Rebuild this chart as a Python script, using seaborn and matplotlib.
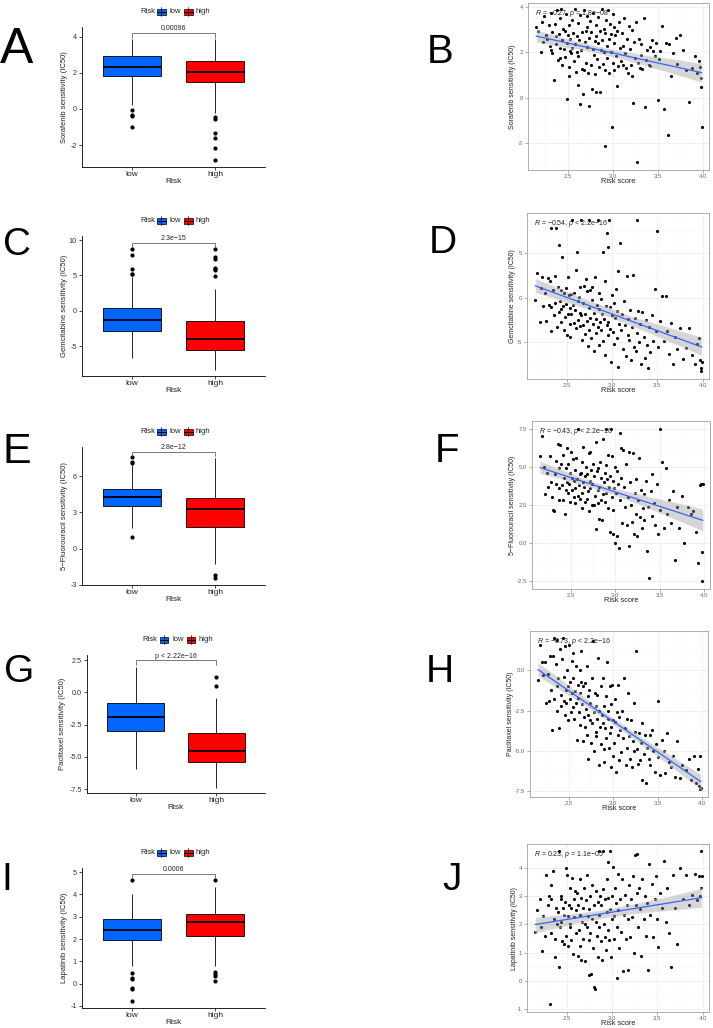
import numpy as np
import pandas as pd
import matplotlib
matplotlib.use("Agg")
import matplotlib.pyplot as plt
import seaborn as sns
from matplotlib import font_manager
from matplotlib.patches import Rectangle
from matplotlib.lines import Line2D

# ---------------- data ----------------
risk_levels = ["low", "high"]
risk_colors = ["#0066FF", "#FF0000"]

# boxplot values per drug (IC50), low / high risk groups
sorafenib_low = [-0.98, -0.40, -0.33, -0.05, 0.20, 0.9, 1.4, 1.65, 1.82, 1.9, 2.0, 2.05, 2.12, 2.2, 2.25, 2.3, 2.33,
                 2.4, 2.48, 2.55, 2.62, 2.7, 2.8, 2.9, 2.96, 3.05, 3.15, 3.3, 3.42, 3.55, 3.68, 3.78, 3.87]
sorafenib_high = [-2.85, -2.15, -1.63, -1.31, -0.55, -0.43, -0.22, 0.8, 1.48, 1.6, 1.7, 1.78, 1.85, 1.92, 1.98, 2.03, 2.07,
                  2.12, 2.2, 2.28, 2.35, 2.42, 2.5, 2.58, 2.65, 2.75, 2.9, 3.05, 3.2, 3.4, 3.55, 3.7, 3.87]
gemcitabine_low = [-6.7, -5.8, -5.0, -4.4, -3.9, -3.5, -3.2, -3.0, -2.83, -2.6, -2.4, -2.2, -2.0, -1.8, -1.6, -1.5, -1.37,
                   -1.2, -1.0, -0.8, -0.6, -0.3, -0.1, 0.15, 0.33, 1.3, 2.8, 4.7, 5.15, 5.25, 5.9, 7.88, 8.77]
gemcitabine_high = [-8.35, -7.6, -7.0, -6.6, -6.3, -6.0, -5.8, -5.65, -5.56, -5.4, -5.2, -5.0, -4.8, -4.5, -4.3, -4.1, -3.96,
                    -3.7, -3.4, -3.1, -2.8, -2.4, -2.0, -1.7, -1.51, 3.07, 4.85, 5.8, 5.9, 6.04, 7.3, 7.6, 8.77]
fluorouracil_low = [0.97, 1.71, 2.4, 2.8, 3.0, 3.2, 3.35, 3.45, 3.55, 3.65, 3.75, 3.85, 3.95, 4.05, 4.12, 4.18, 4.24,
                    4.3, 4.38, 4.46, 4.55, 4.65, 4.75, 4.85, 4.93, 5.2, 5.6, 6.0, 6.4, 6.9, 7.08, 7.2, 7.55]
fluorouracil_high = [-2.42, -2.23, -1.26, -0.3, 0.4, 0.9, 1.3, 1.6, 1.79, 2.0, 2.2, 2.45, 2.65, 2.85, 3.0, 3.15, 3.28,
                     3.4, 3.5, 3.62, 3.75, 3.88, 3.98, 4.1, 4.19, 4.5, 4.9, 5.3, 5.8, 6.3, 6.8, 7.2, 7.5]
paclitaxel_low = [-5.97, -5.3, -4.7, -4.2, -3.8, -3.5, -3.3, -3.1, -3.0, -2.85, -2.7, -2.55, -2.4, -2.25, -2.1, -2.0, -1.91,
                  -1.8, -1.65, -1.5, -1.35, -1.2, -1.05, -0.9, -0.8, -0.5, -0.2, 0.1, 0.5, 0.9, 1.3, 1.65, 1.96]
paclitaxel_high = [-7.39, -6.9, -6.5, -6.2, -5.95, -5.75, -5.6, -5.5, -5.4, -5.3, -5.2, -5.1, -4.95, -4.85, -4.75, -4.65, -4.55,
                   -4.4, -4.25, -4.05, -3.85, -3.65, -3.45, -3.3, -3.18, -2.8, -2.3, -1.8, -1.3, -0.8, -0.41, 0.49, 1.19]
lapatinib_low = [-0.76, -0.26, -0.19, 0.2, 0.25, 0.48, 0.77, 1.5, 1.94, 2.0, 2.07, 2.13, 2.2, 2.27, 2.33, 2.38, 2.42,
                 2.48, 2.54, 2.6, 2.66, 2.72, 2.78, 2.84, 2.89, 3.0, 3.15, 3.3, 3.5, 3.7, 3.85, 4.01, 4.65]
lapatinib_high = [0.1, 0.35, 0.45, 0.5, 0.77, 1.3, 1.7, 1.95, 2.12, 2.25, 2.35, 2.45, 2.53, 2.6, 2.66, 2.71, 2.76,
                  2.8, 2.85, 2.9, 2.95, 3.0, 3.05, 3.09, 3.12, 3.25, 3.4, 3.55, 3.7, 3.9, 4.1, 4.35, 4.65]

box_pvalues = ["0.00096", "2.3e\u221215", "2.8e\u221212", "p < 2.22e\u221216", "0.0006"]

# risk score (shared x) and drug sensitivities for scatter panels
risk_score = [
    2.15, 2.17, 2.20, 2.21, 2.23, 2.24, 2.26, 2.27, 2.29, 2.30,
    2.31, 2.32, 2.33, 2.33, 2.35, 2.36, 2.37, 2.37, 2.38, 2.39,
    2.40, 2.41, 2.41, 2.42, 2.43, 2.44, 2.44, 2.45, 2.46, 2.47,
    2.47, 2.48, 2.49, 2.49, 2.50, 2.51, 2.51, 2.52, 2.53, 2.53,
    2.54, 2.55, 2.55, 2.56, 2.57, 2.58, 2.58, 2.59, 2.60, 2.60,
    2.61, 2.62, 2.62, 2.63, 2.64, 2.64, 2.65, 2.66, 2.66, 2.67,
    2.68, 2.68, 2.69, 2.70, 2.70, 2.71, 2.72, 2.72, 2.73, 2.74,
    2.74, 2.75, 2.76, 2.76, 2.77, 2.78, 2.78, 2.79, 2.80, 2.80,
    2.81, 2.82, 2.82, 2.83, 2.84, 2.84, 2.85, 2.86, 2.86, 2.87,
    2.88, 2.88, 2.89, 2.90, 2.90, 2.91, 2.92, 2.92, 2.93, 2.94,
    2.94, 2.95, 2.96, 2.96, 2.97, 2.98, 2.98, 2.99, 3.00, 3.00,
    3.01, 3.02, 3.02, 3.03, 3.04, 3.05, 3.05, 3.06, 3.07, 3.08,
    3.09, 3.10, 3.11, 3.12, 3.13, 3.14, 3.15, 3.16, 3.17, 3.18,
    3.19, 3.20, 3.21, 3.22, 3.23, 3.24, 3.25, 3.26, 3.27, 3.28,
    3.29, 3.30, 3.31, 3.32, 3.33, 3.35, 3.36, 3.37, 3.38, 3.40,
    3.41, 3.42, 3.44, 3.45, 3.47, 3.48, 3.50, 3.51, 3.53, 3.55,
    3.57, 3.59, 3.61, 3.63, 3.65, 3.67, 3.70, 3.72, 3.75, 3.78,
    3.82, 3.85, 3.88, 3.91, 3.94, 3.96, 3.97, 3.98, 3.98, 3.99,
]
sorafenib_ic50 = [
    3.10, 2.95, 2.00, 3.35, 2.45, 3.60, 2.78, 2.60, 3.20, 2.30,
    3.75, 2.10, 2.90, 1.95, 0.77, 3.25, 2.70, 2.35, 3.85, 1.65,
    2.80, 3.50, 1.75, 2.20, 3.90, 2.55, 1.45, 3.05, 2.15, 2.95,
    1.80, 3.70, 2.40, -0.05, 2.75, 1.35, 3.20, 0.95, 2.05, 2.60,
    1.95, 3.45, 2.20, 2.85, 1.60, 3.90, 2.35, 1.15, 2.70, 2.00,
    0.55, 3.30, 1.85, 2.55, -0.30, 3.65, 2.10, 1.25, 2.90, 0.15,
    3.85, 1.20, 2.45, 1.55, 2.95, 3.10, 2.25, 3.60, 1.10, -0.35,
    2.65, 3.40, 1.45, 2.90, 0.40, 2.15, 3.75, 1.90, 2.50, 1.05,
    3.20, 0.25, 2.70, 1.70, 3.55, 2.40, 1.35, 2.95, 0.25, 2.10,
    3.90, 2.55, 1.50, 3.05, 2.00, 2.85, 1.20, -2.15, 3.45, 2.30,
    1.75, 3.85, 2.60, 1.10, 3.25, 2.00, 2.80, -1.30, 1.55, 3.70,
    2.40, 1.20, 3.10, 2.75, 1.85, 0.50, 2.95, 1.40, 3.35, 2.20,
    1.60, 2.85, 1.45, 2.30, 3.50, 1.95, 1.30, 2.60, 1.10, 3.15,
    2.15, 1.45, 0.95, 3.00, -0.25, 2.45, 1.75, 3.35, -2.85, 1.55,
    2.60, 1.30, 1.90, 2.35, 1.25, 3.50, -0.40, 1.65, 2.10, 1.45,
    2.25, 1.40, 2.55, 2.05, 1.85, 2.40, -0.10, 1.70, 2.05, 3.15,
    -0.50, 2.40, -1.65, 2.35, 0.95, 1.95, 2.65, 1.50, 2.75, 2.10,
    1.20, -0.20, 1.30, 1.85, 1.10, 1.60, 1.35, 0.85, 0.45, -1.30,
]
gemcitabine_ic50 = [
    -0.3, 2.7, -2.8, 1.1, 2.3, -1.0, 0.5, -2.6, 2.2, -0.8,
    1.9, -1.1, 7.8, -3.8, 0.9, -2.0, 2.4, -0.6, 7.8, -3.3,
    1.2, -1.6, 5.9, -0.4, -2.7, 0.8, -1.3, 4.6, -0.9, -3.6,
    0.5, -2.2, 1.1, -0.7, -4.2, 2.3, -1.8, 0.3, -3.0, -1.2,
    -4.4, 0.4, -1.9, 8.7, -0.8, -2.9, 0.5, -1.4, -3.4, 3.1,
    5.1, -2.5, -0.4, 0.1, -3.2, -1.7, 1.2, 8.7, -2.0, -4.8,
    -0.6, -3.1, 1.3, -1.9, -4.1, 2.1, -2.6, 0.7, -5.4, 8.7,
    -1.2, -3.7, 0.9, -2.3, -4.6, -0.3, 1.2, -3.0, -6.0, -1.7,
    2.3, -2.4, -4.0, -0.8, -3.3, 8.7, -1.3, -5.3, 0.5, -2.7,
    -0.2, -3.6, -1.9, 5.1, -4.9, -2.4, 1.8, -6.5, -0.9, -3.1,
    7.2, -2.8, 5.7, -4.2, 8.7, -1.1, -3.5, -7.2, 0.3, -2.0,
    -3.9, -0.6, -5.2, -2.3, 1.0, -4.5, -1.5, -7.8, 3.0, -3.0,
    6.1, -3.6, -1.9, -5.8, -0.4, -3.1, -6.6, 2.4, -4.2, -2.4,
    -4.8, -1.4, -7.0, -3.3, 2.5, -5.6, -2.3, -6.0, 8.7, -4.0,
    -1.5, -5.0, -3.0, -7.5, -1.6, -4.4, -6.8, -2.5, -5.3, -7.9,
    -3.3, -6.1, -2.0, -4.9, 1.0, -3.8, 7.5, -5.6, -2.6, 0.2,
    -4.9, 0.2, -3.8, -6.3, -2.9, -7.5, -4.4, -5.8, -3.4, -6.9,
    -5.7, -3.4, -6.5, -7.5, -5.2, -4.6, -7.0, -8.3, -7.9, -7.2,
]
fluorouracil_ic50 = [
    5.7, 7.0, 5.0, 3.2, 4.6, 3.7, 5.7, 4.0, 3.0, 2.2,
    2.1, 4.5, 5.4, 3.9, 6.5, 2.8, 4.9, 3.6, 6.4, 5.2,
    3.8, 2.8, 5.8, 4.3, 1.9, 4.9, 3.5, 6.2, 4.0, 3.3,
    5.2, 3.9, 4.6, 2.7, 6.0, 3.5, 4.3, 5.5, 3.0, 4.1,
    3.6, 4.8, 2.6, 5.6, 4.2, 3.1, 7.5, 3.8, 4.5, 2.9,
    4.6, 3.3, 5.3, 2.3, 4.0, 6.3, 3.7, 4.4, 2.7, 5.0,
    2.9, 4.5, 3.4, 5.9, 2.1, 4.1, 3.6, 6.0, 4.8, 2.5,
    3.9, 5.2, 2.5, 4.4, 3.1, 6.6, 0.9, 4.7, 3.5, 2.6,
    4.9, 1.6, 3.7, 5.3, 2.8, 4.3, 1.5, 3.2, 6.8, 4.0,
    2.7, 4.6, 5.1, 7.5, 3.3, 4.2, 2.3, 5.8, 3.7, 0.7,
    4.4, 7.5, 3.0, 5.7, 0.6, 4.1, 2.2, 3.6, 5.0, 0.0,
    3.3, 4.7, 0.5, 3.9, -0.3, 7.2, 2.8, 6.2, 4.3, 1.3,
    6.1, 3.7, 2.4, 5.2, 1.2, 3.0, 6.0, -0.2, 4.0, 2.5,
    1.4, 5.9, 0.6, 3.3, 1.9, 4.2, 0.5, 2.8, 5.6, 1.7,
    3.5, 1.0, 2.3, 3.2, 1.5, 4.1, -0.5, 2.4, -2.3, 3.4,
    1.8, 4.5, 2.6, 1.2, 3.9, 0.6, 7.5, 2.2, 5.3, 1.0,
    4.9, 1.9, 2.8, 1.3, 3.4, -1.1, 2.4, 1.0, 3.1, 0.0,
    2.4, 1.9, 2.1, 0.7, -1.3, 3.8, 3.9, -2.5, -0.6, 3.9,
]
paclitaxel_ic50 = [
    -0.6, 1.6, 0.5, -0.3, 0.5, -2.0, -0.2, -1.9, 0.9, -1.2,
    -3.7, 0.9, 2.0, -1.8, 0.4, -1.0, 1.9, -2.5, -0.5, -3.6,
    1.3, -1.5, -2.2, 0.7, 2.0, -1.9, -0.4, -2.8, 1.5, -1.2,
    -2.0, 0.0, -1.0, -3.1, 1.6, -1.8, -0.7, -2.6, 0.6, -1.4,
    -2.3, -0.5, 1.1, -3.0, -1.3, 0.3, -2.0, -4.3, -0.9, -1.7,
    -2.6, 0.0, -1.4, -3.4, -0.7, 1.2, -2.1, -4.4, -1.0, -2.9,
    -3.5, -0.8, -2.4, 0.3, -4.0, -1.6, -2.8, -5.5, -1.2, -3.1,
    -2.0, -4.5, -0.5, -3.3, 1.8, -2.6, -5.0, -1.4, -3.8, -2.2,
    -4.1, -1.5, -3.0, 0.8, -2.5, -5.9, -3.5, -1.0, -4.6, -2.8,
    -3.3, -0.5, -4.9, -2.2, -5.7, -3.6, -1.6, -4.2, 0.5, -3.0,
    -2.5, -4.8, -1.0, -3.9, -6.0, -2.1, -3.5, -0.9, -5.3, -3.1,
    -4.5, -1.8, -3.2, -6.3, -2.6, -0.9, -4.0, -5.6, -2.9, -3.7,
    -5.1, -2.5, -4.2, -0.5, -3.6, -5.9, -3.0, -4.8, -1.4, -4.1,
    -5.5, -3.1, -6.0, -4.4, -2.0, -5.0, -3.8, 1.2, -4.9, -5.8,
    -3.9, -5.6, -4.5, -6.8, -3.3, -5.2, -4.0, -7.0, -4.8, -5.5,
    -4.0, -5.9, -3.7, -5.0, -6.3, -4.6, -1.9, -5.4, -6.5, -4.3,
    -5.0, -6.4, -3.9, -5.7, -6.0, -5.3, -6.6, -4.4, -6.7, -5.9,
    -6.2, -5.5, -6.8, -5.3, -7.0, -6.1, -7.2, -7.4, -5.3, -7.3,
]
lapatinib_ic50 = [
    1.75, 2.5, 2.9, 1.9, 1.05, 2.3, 1.6, 3.75, 2.7, 3.0,
    -0.8, 2.9, 3.4, 1.7, 3.9, 2.2, 1.5, 0.85, 2.6, 2.0,
    2.45, 0.5, 4.6, 1.9, 2.9, 2.1, 3.0, 1.4, 2.6, 2.35,
    1.3, 2.8, 4.0, 1.6, 3.75, 2.3, 1.25, 2.7, 1.9, 3.3,
    2.0, 2.6, 1.45, 3.65, 0.95, 2.9, 2.25, 3.2, 1.7, 2.5,
    3.1, 0.9, 2.7, 1.8, 3.6, 2.35, 1.25, 2.95, 0.75, 2.1,
    2.6, 1.5, 3.3, 2.0, 0.7, 2.85, 1.9, 3.75, 2.3, 1.45,
    0.2, 2.55, 3.0, 1.7, 0.25, 2.2, 3.4, 1.15, -0.2, 2.7,
    -0.3, 2.1, 3.2, 1.6, 2.8, 0.85, 4.6, 2.35, 1.9, 3.0,
    1.4, 2.7, 0.75, 4.6, 3.25, 2.0, 1.55, 2.9, 1.1, 2.45,
    3.6, 1.8, 2.95, 4.2, 1.45, 2.55, 4.6, 0.85, 2.2, 3.0,
    4.05, 2.3, 1.5, 3.3, 2.75, 0.1, 1.9, 2.5, 3.8, 1.15,
    2.9, 1.75, 3.6, 0.35, 2.35, 3.05, 1.5, 2.7, 0.4, 2.2,
    3.4, 1.55, 2.9, 2.25, 3.7, 1.0, 4.45, 2.7, 3.1, 4.5,
    1.9, 3.3, 2.55, 0.9, 3.6, 2.2, 3.0, 1.6, 2.75, 0.4,
    4.15, 2.35, 3.45, 1.55, 2.9, 3.7, 2.2, 1.2, 3.1, 2.6,
    4.25, 2.1, 3.3, 1.7, 0.5, 3.75, 2.6, 1.3, 4.0, 2.9,
    3.75, 2.7, 3.05, 3.8, 2.85, 3.7, 3.0, 4.6, 3.3, 3.7,
]
cor_labels = [
    "$\\mathit{R}$ = \u22120.27, $\\mathit{p}$ = 1.8e\u221208",
    "$\\mathit{R}$ = \u22120.54, $\\mathit{p}$ < 2.2e\u221216",
    "$\\mathit{R}$ = \u22120.43, $\\mathit{p}$ < 2.2e\u221216",
    "$\\mathit{R}$ = \u22120.73, $\\mathit{p}$ < 2.2e\u221216",
    "$\\mathit{R}$ = 0.23, $\\mathit{p}$ = 1.1e\u221205",
]

drug_names = ["Sorafenib", "Gemcitabine", "5\u2212Fluorouracil", "Paclitaxel", "Lapatinib"]

box_yticks = [[-2, 0, 2, 4], [-5, 0, 5, 10], [-3, 0, 3, 6], [-7.5, -5, -2.5, 0, 2.5], [-1, 0, 1, 2, 3, 4, 5]]
box_yticklabels = [["-2", "0", "2", "4"], ["-5", "0", "5", "10"], ["-3", "0", "3", "6"],
                   ["-7.5", "-5.0", "-2.5", "0.0", "2.5"], ["-1", "0", "1", "2", "3", "4", "5"]]
sc_xticks = [2.5, 3.0, 3.5, 4.0]
sc_xticklabels = ["2.5", "3.0", "3.5", "4.0"]
sc_xminor = [2.25, 2.75, 3.25, 3.75]
sc_yticks = [[-2, 0, 2, 4], [-5, 0, 5], [-2.5, 0, 2.5, 5, 7.5], [-7.5, -5, -2.5, 0], [-1, 0, 1, 2, 3, 4]]
sc_yticklabels = [["-2", "0", "2", "4"], ["-5", "0", "5"], ["-2.5", "0.0", "2.5", "5.0", "7.5"],
                  ["-7.5", "-5.0", "-2.5", "0.0"], ["-1", "0", "1", "2", "3", "4"]]
sc_yminor = [[-3, -1, 1, 3], [-7.5, -2.5, 2.5, 7.5], [-1.25, 1.25, 3.75, 6.25],
             [-6.25, -3.75, -1.25, 1.25], [-0.5, 0.5, 1.5, 2.5, 3.5, 4.5]]

box_low = [sorafenib_low, gemcitabine_low, fluorouracil_low, paclitaxel_low, lapatinib_low]
box_high = [sorafenib_high, gemcitabine_high, fluorouracil_high, paclitaxel_high, lapatinib_high]
sc_y = [sorafenib_ic50, gemcitabine_ic50, fluorouracil_ic50, paclitaxel_ic50, lapatinib_ic50]

# ---------------- layout / style ----------------
W, H = 713, 1028
box_rects = [(82, 27, 265, 167), (82, 236, 265, 376), (82, 447, 265, 585), (87, 655, 265, 793), (82, 868, 265, 1008)]
box_ylims = [(-3.22, 4.55), (-9.24, 10.57), (-3.02, 8.4), (-7.8, 2.9), (-1.09, 5.18)]
box_bracket = [4.2, 9.62, 8.0, 2.48, 4.91]
box_ylabel_x = [65, 65, 65, 63, 65]
sc_rects = [(528, 3, 709, 170), (527, 213, 709, 379), (532, 421, 710, 589), (530, 631, 708, 797), (527, 844, 709, 1012)]
sc_ylims = [(-3.2, 4.18), (-9.16, 9.5), (-3.0, 8.0), (-7.87, 2.45), (-1.1, 4.85)]
sc_xlim = (2.06, 4.07)
sc_ylabel_x = [513, 513, 512, 511, 514]
letters = [("A", 17, 63, 36), ("B", 440, 63, 29), ("C", 17, 255, 28), ("D", 443, 253, 28), ("E", 17, 463, 31),
           ("F", 447, 462, 29), ("G", 19, 682, 28), ("H", 440, 682, 28), ("I", 7, 890, 28), ("J", 452, 890, 28)]

sns.set_theme(style="white")
names = {f.name for f in font_manager.fontManager.ttflist}
main_font = "Liberation Sans Narrow" if "Liberation Sans Narrow" in names else "Liberation Sans"
plt.rcParams["font.family"] = [main_font, "DejaVu Sans"]
plt.rcParams["axes.unicode_minus"] = False
plt.rcParams["mathtext.fontset"] = "custom"
plt.rcParams["mathtext.rm"] = main_font
plt.rcParams["mathtext.it"] = main_font + ":italic"

fig = plt.figure(figsize=(W / 100, H / 100), dpi=100)
fig.patch.set_facecolor("white")


def px_axes(l, t, r, b):
    return fig.add_axes([l / W, 1 - b / H, (r - l) / W, (b - t) / H])


def fx(x):
    return x / W


def fy(y):
    return 1 - y / H


def risk_legend(cx, cy):
    fig.text(fx(cx - 33.5), fy(cy), "Risk", fontsize=5.5, ha="left", va="center", color="#222222")
    for lab, col, kx, tx in zip(risk_levels, risk_colors, [cx - 16.5, cx + 10.5], [cx - 3.5, cx + 22.5]):
        fig.add_artist(Line2D([fx(kx + 4.25)] * 2, [fy(cy - 4.5), fy(cy + 4.5)], transform=fig.transFigure,
                              color="black", lw=0.5))
        fig.add_artist(Rectangle((fx(kx), fy(cy + 3)), 8.5 / W, 6 / H, transform=fig.transFigure,
                                 facecolor=col, edgecolor="black", lw=0.5))
        fig.add_artist(Line2D([fx(kx), fx(kx + 8.5)], [fy(cy)] * 2, transform=fig.transFigure, color="black", lw=0.7))
        fig.text(fx(tx), fy(cy), lab, fontsize=5.5, ha="left", va="center", color="#222222")


for i in range(5):
    l, t, r, b = box_rects[i]
    ax = px_axes(l, t, r, b)
    df = pd.DataFrame({"Risk": ["low"] * len(box_low[i]) + ["high"] * len(box_high[i]),
                       "val": list(box_low[i]) + list(box_high[i])})
    sns.boxplot(data=df, x="Risk", y="val", hue="Risk", order=risk_levels, hue_order=risk_levels,
                palette=risk_colors, saturation=1, width=0.7, linecolor="black", linewidth=0.6,
                fliersize=2.0, legend=False, ax=ax,
                medianprops={"linewidth": 1.3, "color": "black"},
                flierprops={"marker": "o", "markerfacecolor": "black", "markeredgecolor": "black"},
                capprops={"visible": False})
    ax.set_xlim(-0.6, 1.6)
    ax.set_ylim(*box_ylims[i])
    ax.set_yticks(box_yticks[i])
    ax.set_yticklabels(box_yticklabels[i])
    for s in ["top", "right"]:
        ax.spines[s].set_visible(False)
    for s in ["left", "bottom"]:
        ax.spines[s].set_color("black")
        ax.spines[s].set_linewidth(0.6)
    ax.tick_params(axis="both", bottom=True, left=True, length=2.2, width=0.5, color="black", pad=1.5)
    ax.tick_params(axis="y", labelsize=5.2, labelcolor="#333333")
    ax.tick_params(axis="x", labelsize=6, labelcolor="#222222", pad=1)
    ax.grid(False)
    ax.set_ylabel(drug_names[i] + " sensitivity (IC50)", fontsize=5.5, color="#222222", va="center")
    ax.yaxis.set_label_coords((box_ylabel_x[i] - l) / (r - l), 0.5)
    ax.set_xlabel("Risk", fontsize=6, color="#222222", va="center")
    ax.xaxis.set_label_coords(0.5, -14.5 / (b - t))
    # significance bracket
    yb = box_bracket[i]
    drop = 0.03 * (box_ylims[i][1] - box_ylims[i][0])
    ax.plot([0, 0, 1, 1], [yb - drop, yb, yb, yb - drop], color="#444444", lw=0.5, clip_on=False)
    ax.annotate(box_pvalues[i], xy=(0.5, yb), xytext=(0, 0.6), textcoords="offset points",
                ha="center", va="bottom", fontsize=5, color="#222222")
    risk_legend((l + r) / 2, t - 15.5)

for i in range(5):
    l, t, r, b = sc_rects[i]
    ax = px_axes(l, t, r, b)
    ax.set_axisbelow(True)
    sns.regplot(x=risk_score, y=sc_y[i], ax=ax, fit_reg=False,
                scatter_kws={"s": 5, "color": "black", "linewidths": 0, "alpha": 1})
    sns.regplot(x=risk_score, y=sc_y[i], ax=ax, scatter=False, ci=95, seed=3, n_boot=500,
                color="#3366FF", line_kws={"lw": 0.9})
    band = ax.collections[-1]
    band.set_facecolor("#999999")
    band.set_alpha(0.4)
    ax.set_xlim(*sc_xlim)
    ax.set_ylim(*sc_ylims[i])
    ax.set_xticks(sc_xticks)
    ax.set_xticklabels(sc_xticklabels)
    ax.set_xticks(sc_xminor, minor=True)
    ax.set_yticks(sc_yticks[i])
    ax.set_yticklabels(sc_yticklabels[i])
    ax.set_yticks(sc_yminor[i], minor=True)
    ax.grid(True, which="major", color="#EBEBEB", lw=0.5)
    ax.grid(True, which="minor", color="#F3F3F3", lw=0.35)
    for s in ax.spines.values():
        s.set_visible(True)
        s.set_color("#A0A0A0")
        s.set_linewidth(0.6)
    ax.tick_params(which="major", bottom=True, left=True, length=2, width=0.4, color="#777777",
                   labelsize=4.3, labelcolor="#666666", pad=1.8)
    ax.tick_params(which="minor", length=0)
    ax.tick_params(axis="x", pad=1)
    ax.set_ylabel(drug_names[i] + " sensitivity (IC50)", fontsize=5, color="#222222", va="center")
    ax.yaxis.set_label_coords((sc_ylabel_x[i] - l) / (r - l), 0.5)
    ax.set_xlabel("Risk score", fontsize=5.3, color="#222222", va="center")
    ax.xaxis.set_label_coords(0.5, -11.5 / (b - t))
    ax.text(0.04, 0.935, cor_labels[i], transform=ax.transAxes, fontsize=5, ha="left", va="center",
            color="#222222")

for lab, cx, by, size in letters:
    fig.text(fx(cx), fy(by), lab, fontsize=size, ha="center", va="baseline", color="black")

fig.savefig("out.png", dpi=100, facecolor="white")
